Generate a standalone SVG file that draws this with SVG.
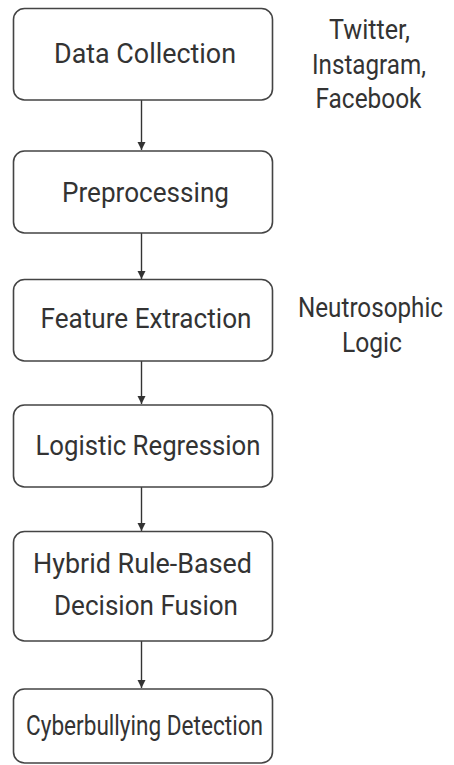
<svg xmlns="http://www.w3.org/2000/svg" width="454" height="765" viewBox="0 0 454 765">
<defs>
<marker id="ah" markerWidth="10" markerHeight="10" refX="9" refY="5" orient="auto" markerUnits="userSpaceOnUse">
<path d="M1,1 L9,5 L1,9 Z" fill="#333"/>
</marker>
</defs>
<style>
.box{fill:#fff;stroke:#444;stroke-width:1.6}
.t{font-family:Roboto,"Liberation Sans",sans-serif;font-size:27px;fill:#333}
.c{stroke:#333;stroke-width:1.4;fill:none}
</style>
<rect width="454" height="765" fill="#fff"/>
<g id="connectors">
<line class="c" x1="141.5" y1="100" x2="141.5" y2="150" marker-end="url(#ah)"/>
<line class="c" x1="141.5" y1="233" x2="141.5" y2="279" marker-end="url(#ah)"/>
<line class="c" x1="141.5" y1="361" x2="141.5" y2="404" marker-end="url(#ah)"/>
<line class="c" x1="141.5" y1="487" x2="141.5" y2="531" marker-end="url(#ah)"/>
<line class="c" x1="141.5" y1="641" x2="141.5" y2="688" marker-end="url(#ah)"/>
</g>
<g id="n1"><rect class="box" x="13.5" y="8.5" width="259" height="91.5" rx="11"/><text class="t" x="54" y="63" textLength="182" lengthAdjust="spacingAndGlyphs">Data Collection</text></g>
<g id="n2"><rect class="box" x="13.5" y="151" width="259" height="82" rx="11"/><text class="t" x="62" y="202" textLength="167" lengthAdjust="spacingAndGlyphs">Preprocessing</text></g>
<g id="n3"><rect class="box" x="13.5" y="279.5" width="259" height="81.5" rx="11"/><text class="t" x="40.5" y="328" textLength="211" lengthAdjust="spacingAndGlyphs">Feature Extraction</text></g>
<g id="n4"><rect class="box" x="13.5" y="405" width="259" height="82" rx="11"/><text class="t" x="35.5" y="455" textLength="225" lengthAdjust="spacingAndGlyphs">Logistic Regression</text></g>
<g id="n5"><rect class="box" x="13.5" y="531.5" width="259" height="109.5" rx="11"/><text class="t" x="33" y="573" textLength="219" lengthAdjust="spacingAndGlyphs">Hybrid Rule-Based</text><text class="t" x="54" y="615" textLength="184" lengthAdjust="spacingAndGlyphs">Decision Fusion</text></g>
<g id="n6"><rect class="box" x="13.5" y="689" width="259" height="74" rx="11"/><text class="t" x="26" y="735" font-size="24" textLength="237" lengthAdjust="spacingAndGlyphs">Cyberbullying Detection</text></g>
<g id="ann1"><text class="t" x="329" y="39" font-size="28" textLength="81" lengthAdjust="spacingAndGlyphs">Twitter,</text><text class="t" x="312" y="74" font-size="28" textLength="114" lengthAdjust="spacingAndGlyphs">Instagram,</text><text class="t" x="315.5" y="108" font-size="28" textLength="106" lengthAdjust="spacingAndGlyphs">Facebook</text></g>
<g id="ann2"><text class="t" x="298" y="317" font-size="27" textLength="145" lengthAdjust="spacingAndGlyphs">Neutrosophic</text><text class="t" x="342" y="352" font-size="28" textLength="60" lengthAdjust="spacingAndGlyphs">Logic</text></g>
</svg>
